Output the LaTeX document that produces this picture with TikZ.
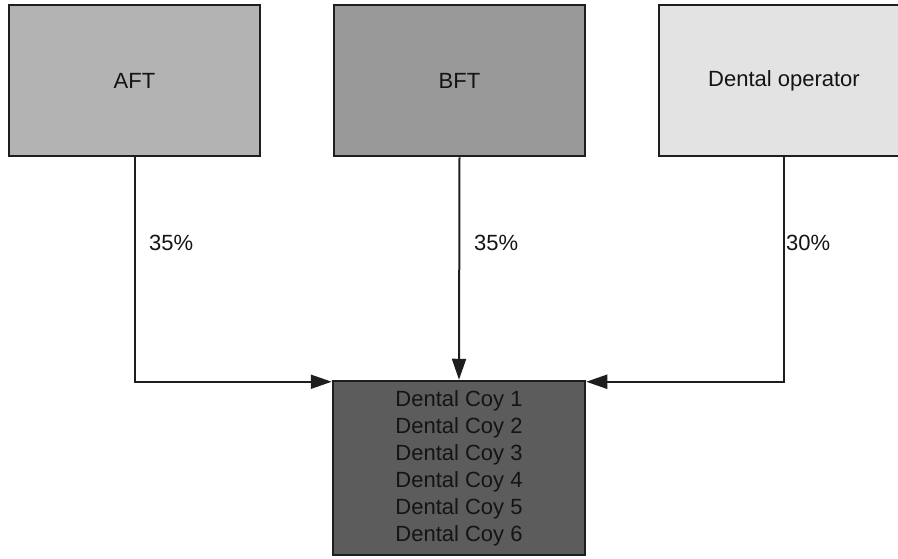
\documentclass[tikz,border=0pt]{standalone}
\usepackage{fontspec}
\setmainfont{Liberation Sans}
\usetikzlibrary{arrows.meta}
\definecolor{edgegray}{HTML}{1E1E1E}
\definecolor{aftfill}{HTML}{B3B3B3}
\definecolor{bftfill}{HTML}{999999}
\definecolor{opfill}{HTML}{E3E3E3}
\definecolor{coyfill}{HTML}{5C5C5C}
\definecolor{inkgray}{HTML}{141414}
\tikzset{
  party/.style={draw=edgegray, line width=2.5pt, inner sep=0pt,
    minimum width=251pt, minimum height=151pt, text=inkgray,
    font=\fontsize{22}{26}\selectfont},
  share/.style={anchor=west, inner sep=0pt, text=inkgray,
    font=\fontsize{22}{26}\selectfont},
  flow/.style={draw=edgegray, line width=2pt,
    -{Triangle[length=21pt, width=14pt]}}
}
\begin{document}
\begin{tikzpicture}[x=1pt, y=-1pt]
  \useasboundingbox (0,0) rectangle (898,558);
  \clip (0,0) rectangle (898,558);
  % owners
  \node[party, fill=aftfill] (aft) at (134.5,80.5) {AFT};
  \node[party, fill=bftfill] (bft) at (459.5,80.5) {BFT};
  \node[party, fill=opfill, minimum width=250pt] (op) at (784,80.5) {Dental operator};
  % owned companies
  \node[party, fill=coyfill, minimum width=252pt, minimum height=174pt,
        align=center, font=\fontsize{22}{27}\selectfont] (coy) at (459,468)
    {Dental Coy 1\\Dental Coy 2\\Dental Coy 3\\Dental Coy 4\\Dental Coy 5\\Dental Coy 6};
  % ownership links
  \coordinate (coyL) at ([yshift=-2pt]coy.north west);
  \coordinate (coyR) at ([yshift=-2pt]coy.north east);
  \draw[flow] (aft.south) |- (coyL);
  \draw[flow] (bft.south) -- (coy.north);
  \draw[flow] (op.south) |- (coyR);
  % shares
  \node[share] (pa) at (149,243) {35\%};
  \node[share] (pb) at (474,243) {35\%};
  \node[share] (po) at (786,243) {30\%};
\end{tikzpicture}
\end{document}
